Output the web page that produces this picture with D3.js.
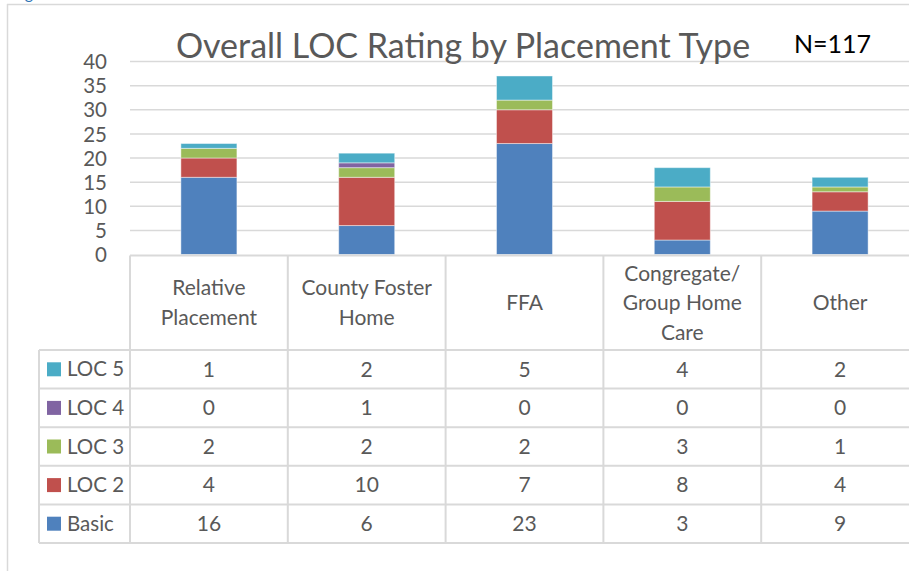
<!DOCTYPE html>
<html>
<head>
<meta charset="utf-8">
<script src="https://cdn.jsdelivr.net/npm/d3@7"></script>
<style>
  body { margin: 0; background: #fff; }
  svg { display: block; font-family: Lato, "Open Sans", sans-serif; }
</style>
</head>
<body>
<svg width="909" height="571"></svg>
<script>
// chart data
var categories = [["Relative", "Placement"], ["County Foster", "Home"], ["FFA"], ["Congregate/", "Group Home", "Care"], ["Other"]];
var seriesNames = ["Basic", "LOC 2", "LOC 3", "LOC 4", "LOC 5"];
var basic = [16, 6, 23, 3, 9];
var loc2 = [4, 10, 7, 8, 4];
var loc3 = [2, 2, 2, 3, 1];
var loc4 = [0, 1, 0, 0, 0];
var loc5 = [1, 2, 5, 4, 2];
var yTicks = [0, 5, 10, 15, 20, 25, 30, 35, 40];
var colors = ["#4F81BD", "#C0504D", "#9BBB59", "#8064A2", "#4BACC6"];

var values = [basic, loc2, loc3, loc4, loc5];
var rows = categories.map(function(c, i) {
    var r = {i: i};
    seriesNames.forEach(function(s, k) { r[s] = values[k][i]; });
    return r;
});

var svg = d3.select("svg");
var grid = "#d9d9d9", textCol = "#595959";

// frame bits of the page
svg.append("line").attr("x1", 7).attr("x2", 909).attr("y1", 4.5).attr("y2", 4.5)
    .attr("stroke", grid).attr("stroke-width", 1.5);
svg.append("line").attr("x1", 7.5).attr("x2", 7.5).attr("y1", 4).attr("y2", 571)
    .attr("stroke", grid).attr("stroke-width", 1.5);
svg.append("text").attr("x", 12).attr("y", -1).attr("font-size", 16)
    .attr("fill", "#2E74B5").text("Fig");

var x = d3.scaleBand().domain(d3.range(categories.length)).range([130, 919]).padding(0);
var y = d3.scaleLinear().domain([0, 40]).range([254.5, 61.5]);
var barW = x.bandwidth() * 0.355;

// gridlines
svg.append("g").selectAll("line").data(yTicks.slice(1)).join("line")
    .attr("x1", 130).attr("x2", 909)
    .attr("y1", function(d) { return y(d); }).attr("y2", function(d) { return y(d); })
    .attr("stroke", grid).attr("stroke-width", 1.5);

// y axis labels
var yAxis = svg.append("g").attr("transform", "translate(107,0)")
    .call(d3.axisLeft(y).tickValues(yTicks).tickSize(0).tickPadding(0));
yAxis.select(".domain").remove();
yAxis.selectAll("text").attr("font-size", 20.5).attr("fill", textCol)
    .attr("font-family", "Lato, sans-serif").attr("dy", "0.35em");

// stacked bars
var stack = d3.stack().keys(seriesNames)(rows);
svg.append("g").selectAll("g").data(stack).join("g")
    .attr("fill", function(d, k) { return colors[k]; })
    .selectAll("rect").data(function(d) { return d; }).join("rect")
    .attr("x", function(d) { return x(d.data.i) + (x.bandwidth() - barW) / 2; })
    .attr("width", barW)
    .attr("y", function(d) { return y(d[1]); })
    .attr("height", function(d) { return y(d[0]) - y(d[1]); })
    .attr("stroke", "#fff").attr("stroke-opacity", 0.45).attr("stroke-width", 1);

// data table
var headTop = 255.5, headBot = 350, rowH = 38.6, legLeft = 39;
var tableRows = seriesNames.slice().reverse();
var tbl = svg.append("g").attr("stroke", grid).attr("stroke-width", 2);
tbl.append("line").attr("x1", 130).attr("x2", 909).attr("y1", headTop).attr("y2", headTop);
d3.range(tableRows.length + 1).forEach(function(r) {
    var yy = headBot + r * rowH;
    tbl.append("line").attr("x1", legLeft).attr("x2", 909).attr("y1", yy).attr("y2", yy);
});
tbl.append("line").attr("x1", legLeft).attr("x2", legLeft)
    .attr("y1", headBot).attr("y2", headBot + tableRows.length * rowH);
d3.range(categories.length + 1).forEach(function(c) {
    var xx = 130 + c * x.step();
    tbl.append("line").attr("x1", xx).attr("x2", xx)
        .attr("y1", headTop).attr("y2", headBot + tableRows.length * rowH);
});

// header labels
var lineH = 29.5;
svg.append("g").selectAll("text").data(categories).join("text")
    .attr("text-anchor", "middle").attr("font-size", 21).attr("fill", textCol)
    .each(function(lines, i) {
        var t = d3.select(this);
        var cy = (headTop + headBot) / 2 - (lines.length - 1) * lineH / 2;
        lines.forEach(function(l, j) {
            t.append("tspan").attr("x", x(i) + x.bandwidth() / 2)
                .attr("y", cy + j * lineH).attr("dy", "0.35em").text(l);
        });
    });

// legend keys + values
tableRows.forEach(function(s, r) {
    var cy = headBot + r * rowH + rowH / 2;
    var k = seriesNames.indexOf(s);
    svg.append("rect").attr("x", 47).attr("y", cy - 7).attr("width", 14).attr("height", 14)
        .attr("fill", colors[k]);
    svg.append("text").attr("x", 67).attr("y", cy).attr("dy", "0.35em")
        .attr("font-size", 20.5).attr("fill", textCol).text(s);
    svg.append("g").selectAll("text").data(values[k]).join("text")
        .attr("x", function(d, i) { return x(i) + x.bandwidth() / 2; })
        .attr("y", cy).attr("dy", "0.35em").attr("text-anchor", "middle")
        .attr("font-size", 21).attr("fill", textCol).text(function(d) { return d; });
});

// title and N
svg.append("text").attr("x", 463).attr("y", 58).attr("text-anchor", "middle")
    .attr("font-size", 34).attr("fill", textCol).text("Overall LOC Rating by Placement Type");
svg.append("text").attr("x", 794).attr("y", 53)
    .attr("font-size", 25).attr("fill", "#000").text("N=117");
</script>
</body>
</html>
